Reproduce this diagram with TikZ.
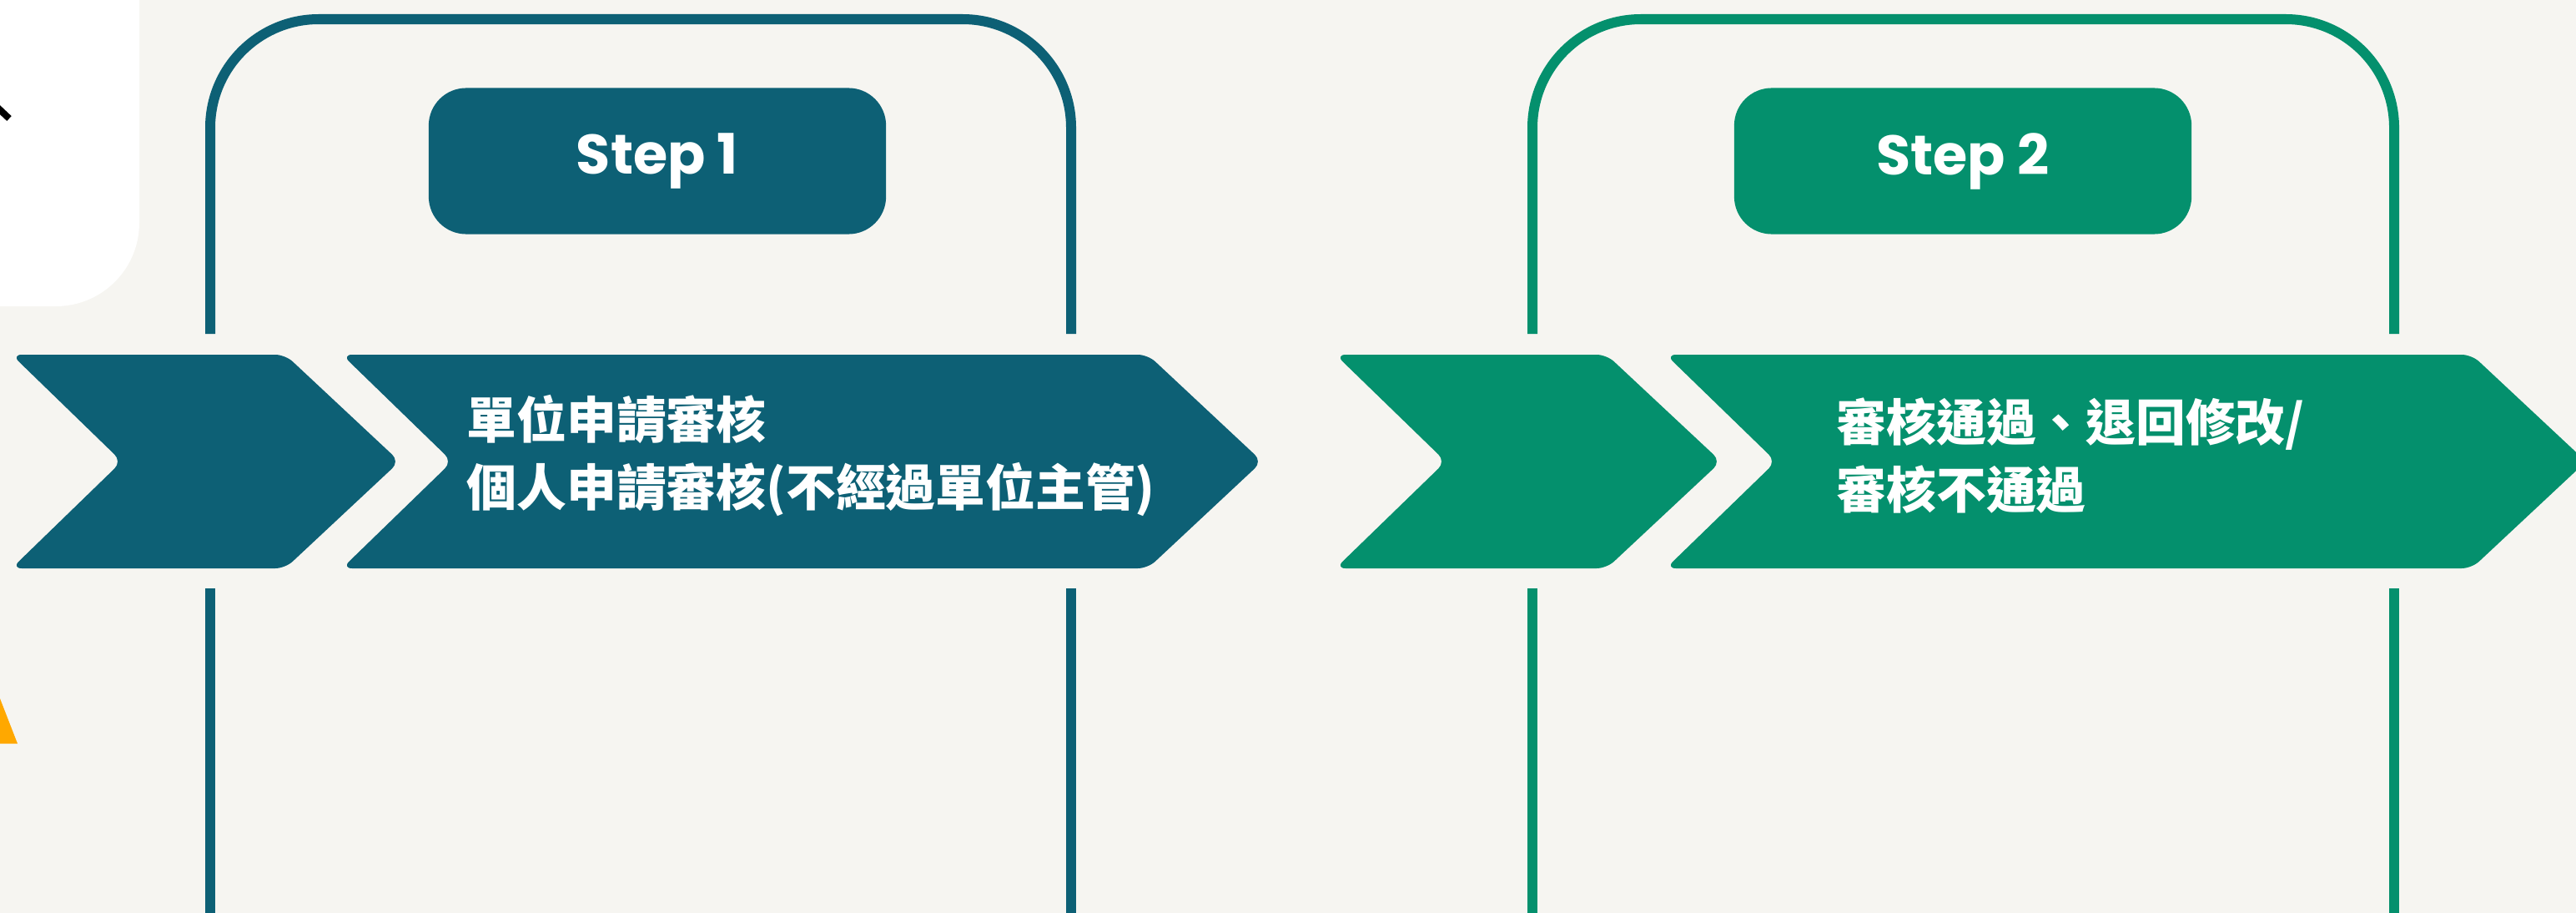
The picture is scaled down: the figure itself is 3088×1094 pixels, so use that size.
\documentclass[tikz,border=0pt]{standalone}
\usepackage{fontspec}
\newfontfamily\cjkfont{Noto Sans CJK TC}
\newfontfamily\popfont{Poppins}
\definecolor{tealc}{HTML}{0D6075}
\definecolor{greenc}{HTML}{04906D}
\definecolor{bgc}{HTML}{F6F5F1}
\definecolor{orangec}{HTML}{FFA800}
\begin{document}
\begin{tikzpicture}[x=0.01cm,y=-0.01cm,
  frame/.style={line width=0.12cm},
  chev/.style={rounded corners=0.12cm},
  stepbox/.style={rounded corners=0.45cm, minimum width=5.48cm, minimum height=1.75cm, inner sep=0pt,
     text=white, font=\popfont\bfseries\fontsize{19pt}{22pt}\selectfont},
  cjktext/.style={anchor=west, inner sep=0pt, align=left, text=white,
     font=\cjkfont\bfseries\fontsize{17pt}{23pt}\selectfont}]
\useasboundingbox (0,0) rectangle (3088,1094);
\clip (0,0) rectangle (3088,1094);
\fill[bgc] (0,0) rectangle (3088,1094);
% partial panel at left
\fill[white, rounded corners=1cm] (-300,-300) rectangle (167,367);
\draw[black, line width=0.08cm] (-6,126) -- (11,142);
\fill[orangec] (0,837) -- (21,891) -- (0,891) -- cycle;
% step 1 frame
\draw[tealc, frame, rounded corners=1.3cm] (252,400) -- (252,23) -- (1284,23) -- (1284,400);
\draw[tealc, frame] (252,705) -- (252,1100);
\draw[tealc, frame] (1284,705) -- (1284,1100);
% step 2 frame
\draw[greenc, frame, rounded corners=1.3cm] (1837,400) -- (1837,23) -- (2870,23) -- (2870,400);
\draw[greenc, frame] (1837,705) -- (1837,1100);
\draw[greenc, frame] (2870,705) -- (2870,1100);
% step boxes
\node[stepbox, fill=tealc] (s1) at (788,193) {Step 1};
\node[stepbox, fill=greenc] (s2) at (2353,193) {Step 2};
% chevrons
\fill[tealc, chev] (14,425) -- (146,553) -- (14,681) -- (342,681) -- (479,553) -- (342,425) -- cycle;
\fill[tealc, chev] (410,425) -- (542,553) -- (410,681) -- (1376,681) -- (1513,553) -- (1376,425) -- cycle;
\fill[greenc, chev] (1601,425) -- (1733,553) -- (1601,681) -- (1926,681) -- (2063,553) -- (1926,425) -- cycle;
\fill[greenc, chev] (1997,425) -- (2129,553) -- (1997,681) -- (2963,681) -- (3100,553) -- (2963,425) -- cycle;
% texts
\node[cjktext] (t1) at (559,546) {單位申請審核\\個人申請審核(不經過單位主管)};
\node[cjktext] (t2) at (2201,546) {審核通過、退回修改/\\審核不通過};
\end{tikzpicture}
\end{document}
